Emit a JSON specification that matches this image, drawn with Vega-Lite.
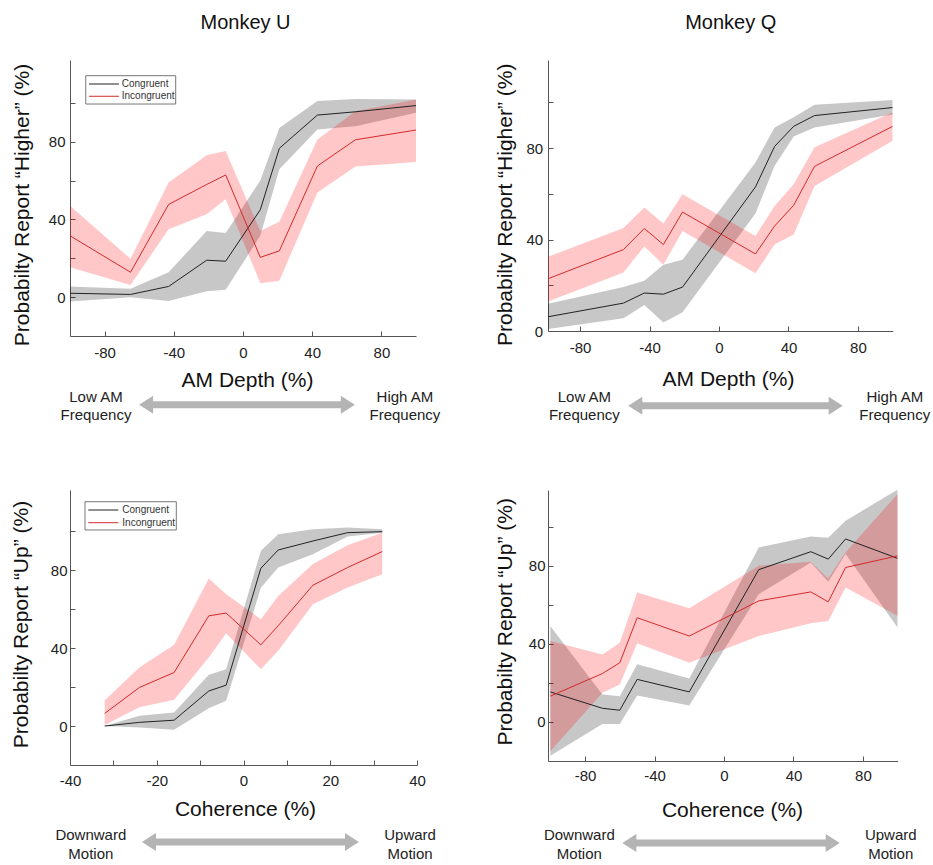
{
  "$schema": "https://vega.github.io/schema/vega-lite/v6.json",
  "padding": {"left": 10, "top": 12, "right": 0, "bottom": 0},
  "autosize": {"type": "pad"},
  "config": {
    "font": "Liberation Sans",
    "view": {"stroke": null},
    "title": {"fontSize": 20, "fontWeight": "normal", "frame": "group", "baseline": "alphabetic", "color": "#111111"},
    "axis": {
      "grid": false, "labelFontSize": 15, "labelColor": "#222222", "titleFontSize": 21, "titleFontWeight": "normal",
      "titleColor": "#111111", "domainColor": "#555555", "tickColor": "#555555", "tickSize": -5, "labelPadding": 13,
      "labelFlush": false, "labelOverlap": false, "titleBaseline": "alphabetic"
    }
  },
  "bounds": "flush",
  "columns": 2,
  "spacing": {"row": 154, "column": 131},
  "resolve": {"scale": {"color": "independent", "fill": "independent"}},
  "concat": [
    {
      "width": 346, "height": 276,
      "title": {"text": "Monkey U", "offset": 27.5, "dx": 2.5},
      "data": {"values": [
        {"x": -100, "cond": "Congruent", "p": 2, "lo": -2.2, "hi": 5.5},
        {"x": -65, "cond": "Congruent", "p": 1.4, "lo": 0, "hi": 4.3},
        {"x": -43, "cond": "Congruent", "p": 5.5, "lo": -2, "hi": 12.8},
        {"x": -21, "cond": "Congruent", "p": 19, "lo": 3, "hi": 34},
        {"x": -10, "cond": "Congruent", "p": 18.5, "lo": 3.8, "hi": 33},
        {"x": 10, "cond": "Congruent", "p": 45, "lo": 31.6, "hi": 60},
        {"x": 21, "cond": "Congruent", "p": 76.6, "lo": 65.8, "hi": 87},
        {"x": 43, "cond": "Congruent", "p": 93.7, "lo": 86.3, "hi": 100.9},
        {"x": 65, "cond": "Congruent", "p": 95.4, "lo": 88, "hi": 102},
        {"x": 100, "cond": "Congruent", "p": 98.6, "lo": 94.9, "hi": 101.7},
        {"x": -100, "cond": "Incongruent", "p": 31.6, "lo": 15.4, "hi": 47},
        {"x": -65, "cond": "Incongruent", "p": 12.8, "lo": 6.3, "hi": 19.7},
        {"x": -43, "cond": "Incongruent", "p": 47.7, "lo": 35, "hi": 59},
        {"x": -21, "cond": "Incongruent", "p": 58, "lo": 42.7, "hi": 73},
        {"x": -10, "cond": "Incongruent", "p": 62.9, "lo": 50.4, "hi": 75.2},
        {"x": 10, "cond": "Incongruent", "p": 20.5, "lo": 7.2, "hi": 34},
        {"x": 21, "cond": "Incongruent", "p": 23.8, "lo": 8.5, "hi": 38.8},
        {"x": 43, "cond": "Incongruent", "p": 67.5, "lo": 53.8, "hi": 81.2},
        {"x": 65, "cond": "Incongruent", "p": 81, "lo": 67.2, "hi": 95.7},
        {"x": 100, "cond": "Incongruent", "p": 86, "lo": 69.6, "hi": 101.7}
      ]},
      "layer": [
        {
          "mark": {"type": "area", "fillOpacity": 0.22, "strokeWidth": 0, "clip": true},
          "encoding": {
            "x": {"field": "x", "type": "quantitative", "scale": {"domain": [-100, 100], "nice": false, "zero": false},
              "axis": {"title": "AM Depth (%)", "values": [-80, -60, -40, -20, 0, 20, 40, 60, 80, 100], "labelExpr": "datum.value % 40 === 0 ? '' + datum.value : ''", "titleX": 177, "titleY": 50, "labelPadding": 14}},
            "y": {"field": "lo", "type": "quantitative", "scale": {"domain": [-20, 122.06], "nice": false, "zero": false},
              "axis": {"title": "Probabilty Report “Higher” (%)", "values": [0, 20, 40, 60, 80, 100], "labelExpr": "datum.value % 40 === 0 ? '' + datum.value : ''", "titleX": -41.7, "titleY": 144.5, "labelPadding": 10}},
            "y2": {"field": "hi"},
            "fill": {"field": "cond", "type": "nominal", "scale": {"domain": ["Congruent", "Incongruent"], "range": ["#000000", "#ff0000"]}, "legend": null}
          }
        },
        {
          "mark": {"type": "line", "strokeWidth": 1, "clip": true},
          "encoding": {
            "x": {"field": "x", "type": "quantitative", "title": "AM Depth (%)"},
            "y": {"field": "p", "type": "quantitative", "title": "Probabilty Report “Higher” (%)"},
            "color": {"field": "cond", "type": "nominal", "scale": {"domain": ["Congruent", "Incongruent"], "range": ["#222222", "#d42a2a"]}, "legend": null}
          }
        },
        {"data": {"values": [{}]}, "mark": {"type": "rect", "fill": "#ffffff", "stroke": "#777777", "strokeWidth": 1},
          "encoding": {"x": {"datum": -90.9, "type": "quantitative"}, "x2": {"datum": -38.9}, "y": {"datum": 113.98, "type": "quantitative"}, "y2": {"datum": 99.4}}},
        {"data": {"values": [{}]}, "mark": {"type": "rule", "strokeWidth": 1, "color": "#222222"},
          "encoding": {"x": {"datum": -89, "type": "quantitative"}, "x2": {"datum": -71.7}, "y": {"datum": 109.7, "type": "quantitative"}}},
        {"data": {"values": [{}]}, "mark": {"type": "rule", "strokeWidth": 1, "color": "#d42a2a"},
          "encoding": {"x": {"datum": -89, "type": "quantitative"}, "x2": {"datum": -71.7}, "y": {"datum": 103.4, "type": "quantitative"}}},
        {"data": {"values": [{}]}, "mark": {"type": "text", "fontSize": 10, "align": "left", "baseline": "middle", "color": "#333333"},
          "encoding": {"x": {"datum": -70.1, "type": "quantitative"}, "y": {"datum": 109.7, "type": "quantitative"}, "text": {"value": "Congruent"}}},
        {"data": {"values": [{}]}, "mark": {"type": "text", "fontSize": 10, "align": "left", "baseline": "middle", "color": "#333333"},
          "encoding": {"x": {"datum": -70.1, "type": "quantitative"}, "y": {"datum": 103.4, "type": "quantitative"}, "text": {"value": "Incongruent"}}},
        {"data": {"values": [{}]}, "mark": {"type": "rule", "strokeWidth": 7, "color": "#b4b4b4"},
          "encoding": {"x": {"datum": -56, "type": "quantitative"}, "x2": {"datum": 60.6}, "y": {"datum": -55.4, "type": "quantitative"}}},
        {"data": {"values": [{}]}, "mark": {"type": "point", "shape": "M0.78,-1L-0.78,0L0.78,1Z", "filled": true, "size": 324, "color": "#b4b4b4", "opacity": 1},
          "encoding": {"x": {"datum": -56, "type": "quantitative"}, "y": {"datum": -55.4, "type": "quantitative"}}},
        {"data": {"values": [{}]}, "mark": {"type": "point", "shape": "M-0.78,-1L0.78,0L-0.78,1Z", "filled": true, "size": 324, "color": "#b4b4b4", "opacity": 1},
          "encoding": {"x": {"datum": 60.6, "type": "quantitative"}, "y": {"datum": -55.4, "type": "quantitative"}}},
        {"data": {"values": [{}]}, "mark": {"type": "text", "fontSize": 15, "align": "center", "baseline": "middle", "lineHeight": 18, "color": "#222222"},
          "encoding": {"x": {"datum": -85, "type": "quantitative"}, "y": {"datum": -51.4, "type": "quantitative"}, "text": {"value": ["Low AM", "Frequency"]}}},
        {"data": {"values": [{}]}, "mark": {"type": "text", "fontSize": 15, "align": "center", "baseline": "middle", "lineHeight": 18, "color": "#222222"},
          "encoding": {"x": {"datum": 93.6, "type": "quantitative"}, "y": {"datum": -51.4, "type": "quantitative"}, "text": {"value": ["High AM", "Frequency"]}}}
      ]
    },
    {
      "width": 344.7, "height": 271,
      "title": {"text": "Monkey Q", "offset": 27, "dx": 10.4},
      "data": {"values": [
        {"x": -100, "cond": "Congruent", "p": 6, "lo": 0.7, "hi": 11.7},
        {"x": -55, "cond": "Congruent", "p": 12.2, "lo": 5.6, "hi": 19.2},
        {"x": -43, "cond": "Congruent", "p": 16.6, "lo": 11.4, "hi": 22},
        {"x": -32, "cond": "Congruent", "p": 16.1, "lo": 3.7, "hi": 29},
        {"x": -21, "cond": "Congruent", "p": 19.2, "lo": 8.2, "hi": 31.2},
        {"x": 21, "cond": "Congruent", "p": 63, "lo": 51.4, "hi": 73.7},
        {"x": 32, "cond": "Congruent", "p": 80.7, "lo": 72.2, "hi": 89},
        {"x": 43, "cond": "Congruent", "p": 89.5, "lo": 85, "hi": 93.5},
        {"x": 55, "cond": "Congruent", "p": 94.2, "lo": 89, "hi": 98.9},
        {"x": 100, "cond": "Congruent", "p": 97.7, "lo": 94.7, "hi": 101},
        {"x": -100, "cond": "Incongruent", "p": 22.4, "lo": 12.5, "hi": 32},
        {"x": -55, "cond": "Incongruent", "p": 35.6, "lo": 25.6, "hi": 45},
        {"x": -43, "cond": "Incongruent", "p": 44.8, "lo": 37, "hi": 54},
        {"x": -32, "cond": "Incongruent", "p": 37.8, "lo": 29, "hi": 47},
        {"x": -21, "cond": "Incongruent", "p": 52, "lo": 43.7, "hi": 59.8},
        {"x": 21, "cond": "Incongruent", "p": 33.7, "lo": 25.3, "hi": 41.5},
        {"x": 32, "cond": "Incongruent", "p": 45.9, "lo": 37.8, "hi": 54.7},
        {"x": 43, "cond": "Incongruent", "p": 55, "lo": 42.2, "hi": 64.2},
        {"x": 55, "cond": "Incongruent", "p": 72, "lo": 63.4, "hi": 80.3},
        {"x": 100, "cond": "Incongruent", "p": 89.5, "lo": 83.2, "hi": 95.7}
      ]},
      "layer": [
        {
          "mark": {"type": "area", "fillOpacity": 0.22, "strokeWidth": 0, "clip": true},
          "encoding": {
            "x": {"field": "x", "type": "quantitative", "scale": {"domain": [-98.44, 100], "nice": false, "zero": false},
              "axis": {"title": "AM Depth (%)", "values": [-80, -60, -40, -20, 0, 20, 40, 60, 80, 100], "labelExpr": "datum.value % 40 === 0 ? '' + datum.value : ''", "titleX": 180, "titleY": 54, "labelPadding": 14}},
            "y": {"field": "lo", "type": "quantitative", "scale": {"domain": [0, 118.5], "nice": false, "zero": false},
              "axis": {"title": "Probabilty Report “Higher” (%)", "values": [0, 20, 40, 60, 80, 100], "labelExpr": "datum.value % 40 === 0 ? '' + datum.value : ''", "titleX": -37, "titleY": 144.3, "labelPadding": 10.3}},
            "y2": {"field": "hi"},
            "fill": {"field": "cond", "type": "nominal", "scale": {"domain": ["Congruent", "Incongruent"], "range": ["#000000", "#ff0000"]}, "legend": null}
          }
        },
        {
          "mark": {"type": "line", "strokeWidth": 1, "clip": true},
          "encoding": {
            "x": {"field": "x", "type": "quantitative", "title": "AM Depth (%)"},
            "y": {"field": "p", "type": "quantitative", "title": "Probabilty Report “Higher” (%)"},
            "color": {"field": "cond", "type": "nominal", "scale": {"domain": ["Congruent", "Incongruent"], "range": ["#222222", "#d42a2a"]}, "legend": null}
          }
        },
        {"data": {"values": [{}]}, "mark": {"type": "rule", "strokeWidth": 7, "color": "#b4b4b4"},
          "encoding": {"x": {"datum": -48.2, "type": "quantitative"}, "x2": {"datum": 67.2}, "y": {"datum": -32.7, "type": "quantitative"}}},
        {"data": {"values": [{}]}, "mark": {"type": "point", "shape": "M0.78,-1L-0.78,0L0.78,1Z", "filled": true, "size": 324, "color": "#b4b4b4", "opacity": 1},
          "encoding": {"x": {"datum": -48.2, "type": "quantitative"}, "y": {"datum": -32.7, "type": "quantitative"}}},
        {"data": {"values": [{}]}, "mark": {"type": "point", "shape": "M-0.78,-1L0.78,0L-0.78,1Z", "filled": true, "size": 324, "color": "#b4b4b4", "opacity": 1},
          "encoding": {"x": {"datum": 67.2, "type": "quantitative"}, "y": {"datum": -32.7, "type": "quantitative"}}},
        {"data": {"values": [{}]}, "mark": {"type": "text", "fontSize": 15, "align": "center", "baseline": "middle", "lineHeight": 18, "color": "#222222"},
          "encoding": {"x": {"datum": -77.5, "type": "quantitative"}, "y": {"datum": -29, "type": "quantitative"}, "text": {"value": ["Low AM", "Frequency"]}}},
        {"data": {"values": [{}]}, "mark": {"type": "text", "fontSize": 15, "align": "center", "baseline": "middle", "lineHeight": 18, "color": "#222222"},
          "encoding": {"x": {"datum": 101.2, "type": "quantitative"}, "y": {"datum": -29, "type": "quantitative"}, "text": {"value": ["High AM", "Frequency"]}}}
      ]
    },
    {
      "width": 347, "height": 275,
      "data": {"values": [
        {"x": -32, "cond": "Congruent", "p": 0, "lo": 0, "hi": 0},
        {"x": -24, "cond": "Congruent", "p": 1.9, "lo": -0.7, "hi": 5.3},
        {"x": -16, "cond": "Congruent", "p": 3, "lo": -1.9, "hi": 7},
        {"x": -8, "cond": "Congruent", "p": 18, "lo": 9.2, "hi": 26.3},
        {"x": -4, "cond": "Congruent", "p": 21, "lo": 13, "hi": 29.2},
        {"x": 4, "cond": "Congruent", "p": 81, "lo": 71, "hi": 90},
        {"x": 8, "cond": "Congruent", "p": 90.4, "lo": 81.4, "hi": 98.5},
        {"x": 16, "cond": "Congruent", "p": 95, "lo": 88.2, "hi": 101},
        {"x": 24, "cond": "Congruent", "p": 99.3, "lo": 97.3, "hi": 101.9},
        {"x": 32, "cond": "Congruent", "p": 99.8, "lo": 99.3, "hi": 101},
        {"x": -32, "cond": "Incongruent", "p": 6.5, "lo": 0.5, "hi": 13.3},
        {"x": -24, "cond": "Incongruent", "p": 19.8, "lo": 9.6, "hi": 30},
        {"x": -16, "cond": "Incongruent", "p": 27.5, "lo": 13.5, "hi": 41.7},
        {"x": -8, "cond": "Incongruent", "p": 56.6, "lo": 35.2, "hi": 75.7},
        {"x": -4, "cond": "Incongruent", "p": 58, "lo": 47.7, "hi": 67.7},
        {"x": 4, "cond": "Incongruent", "p": 41.7, "lo": 29.2, "hi": 54.9},
        {"x": 8, "cond": "Incongruent", "p": 51.5, "lo": 38.6, "hi": 66.8},
        {"x": 16, "cond": "Incongruent", "p": 72.3, "lo": 62.6, "hi": 83.2},
        {"x": 24, "cond": "Incongruent", "p": 81.4, "lo": 71.1, "hi": 92.8},
        {"x": 32, "cond": "Incongruent", "p": 89.6, "lo": 78, "hi": 99.3}
      ]},
      "layer": [
        {
          "mark": {"type": "area", "fillOpacity": 0.22, "strokeWidth": 0, "clip": true},
          "encoding": {
            "x": {"field": "x", "type": "quantitative", "scale": {"domain": [-40, 40], "nice": false, "zero": false},
              "axis": {"title": "Coherence (%)", "values": [-40, -30, -20, -10, 0, 10, 20, 30, 40], "labelExpr": "datum.value % 20 === 0 ? '' + datum.value : ''", "titleX": 175, "titleY": 50.7, "labelPadding": 13}},
            "y": {"field": "lo", "type": "quantitative", "scale": {"domain": [-20, 121.2], "nice": false, "zero": false},
              "axis": {"title": "Probabilty Report “Up” (%)", "values": [0, 20, 40, 60, 80, 100], "labelExpr": "datum.value % 40 === 0 ? '' + datum.value : ''", "titleX": -42.3, "titleY": 134, "labelPadding": 8}},
            "y2": {"field": "hi"},
            "fill": {"field": "cond", "type": "nominal", "scale": {"domain": ["Congruent", "Incongruent"], "range": ["#000000", "#ff0000"]}, "legend": null}
          }
        },
        {
          "mark": {"type": "line", "strokeWidth": 1, "clip": true},
          "encoding": {
            "x": {"field": "x", "type": "quantitative", "title": "Coherence (%)"},
            "y": {"field": "p", "type": "quantitative", "title": "Probabilty Report “Up” (%)"},
            "color": {"field": "cond", "type": "nominal", "scale": {"domain": ["Congruent", "Incongruent"], "range": ["#222222", "#d42a2a"]}, "legend": null}
          }
        },
        {"data": {"values": [{}]}, "mark": {"type": "rect", "fill": "#ffffff", "stroke": "#777777", "strokeWidth": 1},
          "encoding": {"x": {"datum": -36.54, "type": "quantitative"}, "x2": {"datum": -15.49}, "y": {"datum": 115.19, "type": "quantitative"}, "y2": {"datum": 100.67}}},
        {"data": {"values": [{}]}, "mark": {"type": "rule", "strokeWidth": 1, "color": "#222222"},
          "encoding": {"x": {"datum": -35.78, "type": "quantitative"}, "x2": {"datum": -28.86}, "y": {"datum": 110.93, "type": "quantitative"}}},
        {"data": {"values": [{}]}, "mark": {"type": "rule", "strokeWidth": 1, "color": "#d42a2a"},
          "encoding": {"x": {"datum": -35.78, "type": "quantitative"}, "x2": {"datum": -28.86}, "y": {"datum": 104.41, "type": "quantitative"}}},
        {"data": {"values": [{}]}, "mark": {"type": "text", "fontSize": 10, "align": "left", "baseline": "middle", "color": "#333333"},
          "encoding": {"x": {"datum": -27.94, "type": "quantitative"}, "y": {"datum": 110.93, "type": "quantitative"}, "text": {"value": "Congruent"}}},
        {"data": {"values": [{}]}, "mark": {"type": "text", "fontSize": 10, "align": "left", "baseline": "middle", "color": "#333333"},
          "encoding": {"x": {"datum": -27.94, "type": "quantitative"}, "y": {"datum": 104.41, "type": "quantitative"}, "text": {"value": "Incongruent"}}},
        {"data": {"values": [{}]}, "mark": {"type": "rule", "strokeWidth": 7, "color": "#b4b4b4"},
          "encoding": {"x": {"datum": -21.8, "type": "quantitative"}, "x2": {"datum": 25.0}, "y": {"datum": -59.5, "type": "quantitative"}}},
        {"data": {"values": [{}]}, "mark": {"type": "point", "shape": "M0.78,-1L-0.78,0L0.78,1Z", "filled": true, "size": 324, "color": "#b4b4b4", "opacity": 1},
          "encoding": {"x": {"datum": -21.8, "type": "quantitative"}, "y": {"datum": -59.5, "type": "quantitative"}}},
        {"data": {"values": [{}]}, "mark": {"type": "point", "shape": "M-0.78,-1L0.78,0L-0.78,1Z", "filled": true, "size": 324, "color": "#b4b4b4", "opacity": 1},
          "encoding": {"x": {"datum": 25.0, "type": "quantitative"}, "y": {"datum": -59.5, "type": "quantitative"}}},
        {"data": {"values": [{}]}, "mark": {"type": "text", "fontSize": 15, "align": "center", "baseline": "middle", "lineHeight": 19, "color": "#222222"},
          "encoding": {"x": {"datum": -35.2, "type": "quantitative"}, "y": {"datum": -55.93, "type": "quantitative"}, "text": {"value": ["Downward", "Motion"]}}},
        {"data": {"values": [{}]}, "mark": {"type": "text", "fontSize": 15, "align": "center", "baseline": "middle", "lineHeight": 19, "color": "#222222"},
          "encoding": {"x": {"datum": 38.4, "type": "quantitative"}, "y": {"datum": -55.93, "type": "quantitative"}, "text": {"value": ["Upward", "Motion"]}}}
      ]
    },
    {
      "width": 349.7, "height": 271,
      "data": {"values": [
        {"x": -100, "cond": "Congruent", "p": 15.4, "lo": -17.3, "hi": 49.2},
        {"x": -70, "cond": "Congruent", "p": 7, "lo": -1, "hi": 14},
        {"x": -60, "cond": "Congruent", "p": 6, "lo": -1, "hi": 13.2},
        {"x": -50, "cond": "Congruent", "p": 21.8, "lo": 13.5, "hi": 29.5},
        {"x": -20, "cond": "Congruent", "p": 15.4, "lo": 8.4, "hi": 22.3},
        {"x": 20, "cond": "Congruent", "p": 78, "lo": 65.4, "hi": 89.4},
        {"x": 50, "cond": "Congruent", "p": 87.2, "lo": 81.7, "hi": 95},
        {"x": 60, "cond": "Congruent", "p": 83.4, "lo": 71.8, "hi": 94.4},
        {"x": 70, "cond": "Congruent", "p": 93.7, "lo": 86, "hi": 103.1},
        {"x": 100, "cond": "Congruent", "p": 83.8, "lo": 48.3, "hi": 119},
        {"x": -100, "cond": "Incongruent", "p": 13.2, "lo": -15, "hi": 41.5},
        {"x": -70, "cond": "Incongruent", "p": 24.8, "lo": 14.9, "hi": 34.6},
        {"x": -60, "cond": "Incongruent", "p": 30.3, "lo": 19.2, "hi": 40.6},
        {"x": -50, "cond": "Incongruent", "p": 53.4, "lo": 40.3, "hi": 66.3},
        {"x": -20, "cond": "Incongruent", "p": 44, "lo": 30.3, "hi": 58.2},
        {"x": 20, "cond": "Incongruent", "p": 62, "lo": 44, "hi": 80},
        {"x": 50, "cond": "Incongruent", "p": 66.6, "lo": 50.5, "hi": 82},
        {"x": 60, "cond": "Incongruent", "p": 61.5, "lo": 51.7, "hi": 73.5},
        {"x": 70, "cond": "Incongruent", "p": 79.1, "lo": 68.9, "hi": 86.9},
        {"x": 100, "cond": "Incongruent", "p": 85.1, "lo": 54.3, "hi": 116.8}
      ]},
      "layer": [
        {
          "mark": {"type": "area", "fillOpacity": 0.22, "strokeWidth": 0, "clip": true},
          "encoding": {
            "x": {"field": "x", "type": "quantitative", "scale": {"domain": [-101.33, 100], "nice": false, "zero": false},
              "axis": {"title": "Coherence (%)", "values": [-80, -60, -40, -20, 0, 20, 40, 60, 80, 100], "labelExpr": "datum.value % 40 === 0 ? '' + datum.value : ''", "titleX": 184, "titleY": 55, "labelPadding": 12}},
            "y": {"field": "lo", "type": "quantitative", "scale": {"domain": [-20, 118.8], "nice": false, "zero": false},
              "axis": {"title": "Probabilty Report “Up” (%)", "values": [0, 20, 40, 60, 80, 100], "labelExpr": "datum.value % 40 === 0 ? '' + datum.value : ''", "titleX": -36.7, "titleY": 131.3, "labelPadding": 8}},
            "y2": {"field": "hi"},
            "fill": {"field": "cond", "type": "nominal", "scale": {"domain": ["Congruent", "Incongruent"], "range": ["#000000", "#ff0000"]}, "legend": null}
          }
        },
        {
          "mark": {"type": "line", "strokeWidth": 1, "clip": true},
          "encoding": {
            "x": {"field": "x", "type": "quantitative", "title": "Coherence (%)"},
            "y": {"field": "p", "type": "quantitative", "title": "Probabilty Report “Up” (%)"},
            "color": {"field": "cond", "type": "nominal", "scale": {"domain": ["Congruent", "Incongruent"], "range": ["#222222", "#d42a2a"]}, "legend": null}
          }
        },
        {"data": {"values": [{}]}, "mark": {"type": "rule", "strokeWidth": 7, "color": "#b4b4b4"},
          "encoding": {"x": {"datum": -54.5, "type": "quantitative"}, "x2": {"datum": 62.6}, "y": {"datum": -62, "type": "quantitative"}}},
        {"data": {"values": [{}]}, "mark": {"type": "point", "shape": "M0.78,-1L-0.78,0L0.78,1Z", "filled": true, "size": 324, "color": "#b4b4b4", "opacity": 1},
          "encoding": {"x": {"datum": -54.5, "type": "quantitative"}, "y": {"datum": -62, "type": "quantitative"}}},
        {"data": {"values": [{}]}, "mark": {"type": "point", "shape": "M-0.78,-1L0.78,0L-0.78,1Z", "filled": true, "size": 324, "color": "#b4b4b4", "opacity": 1},
          "encoding": {"x": {"datum": 62.6, "type": "quantitative"}, "y": {"datum": -62, "type": "quantitative"}}},
        {"data": {"values": [{}]}, "mark": {"type": "text", "fontSize": 15, "align": "center", "baseline": "middle", "lineHeight": 19, "color": "#222222"},
          "encoding": {"x": {"datum": -83.3, "type": "quantitative"}, "y": {"datum": -58.04, "type": "quantitative"}, "text": {"value": ["Downward", "Motion"]}}},
        {"data": {"values": [{}]}, "mark": {"type": "text", "fontSize": 15, "align": "center", "baseline": "middle", "lineHeight": 19, "color": "#222222"},
          "encoding": {"x": {"datum": 96, "type": "quantitative"}, "y": {"datum": -58.04, "type": "quantitative"}, "text": {"value": ["Upward", "Motion"]}}}
      ]
    }
  ]
}
